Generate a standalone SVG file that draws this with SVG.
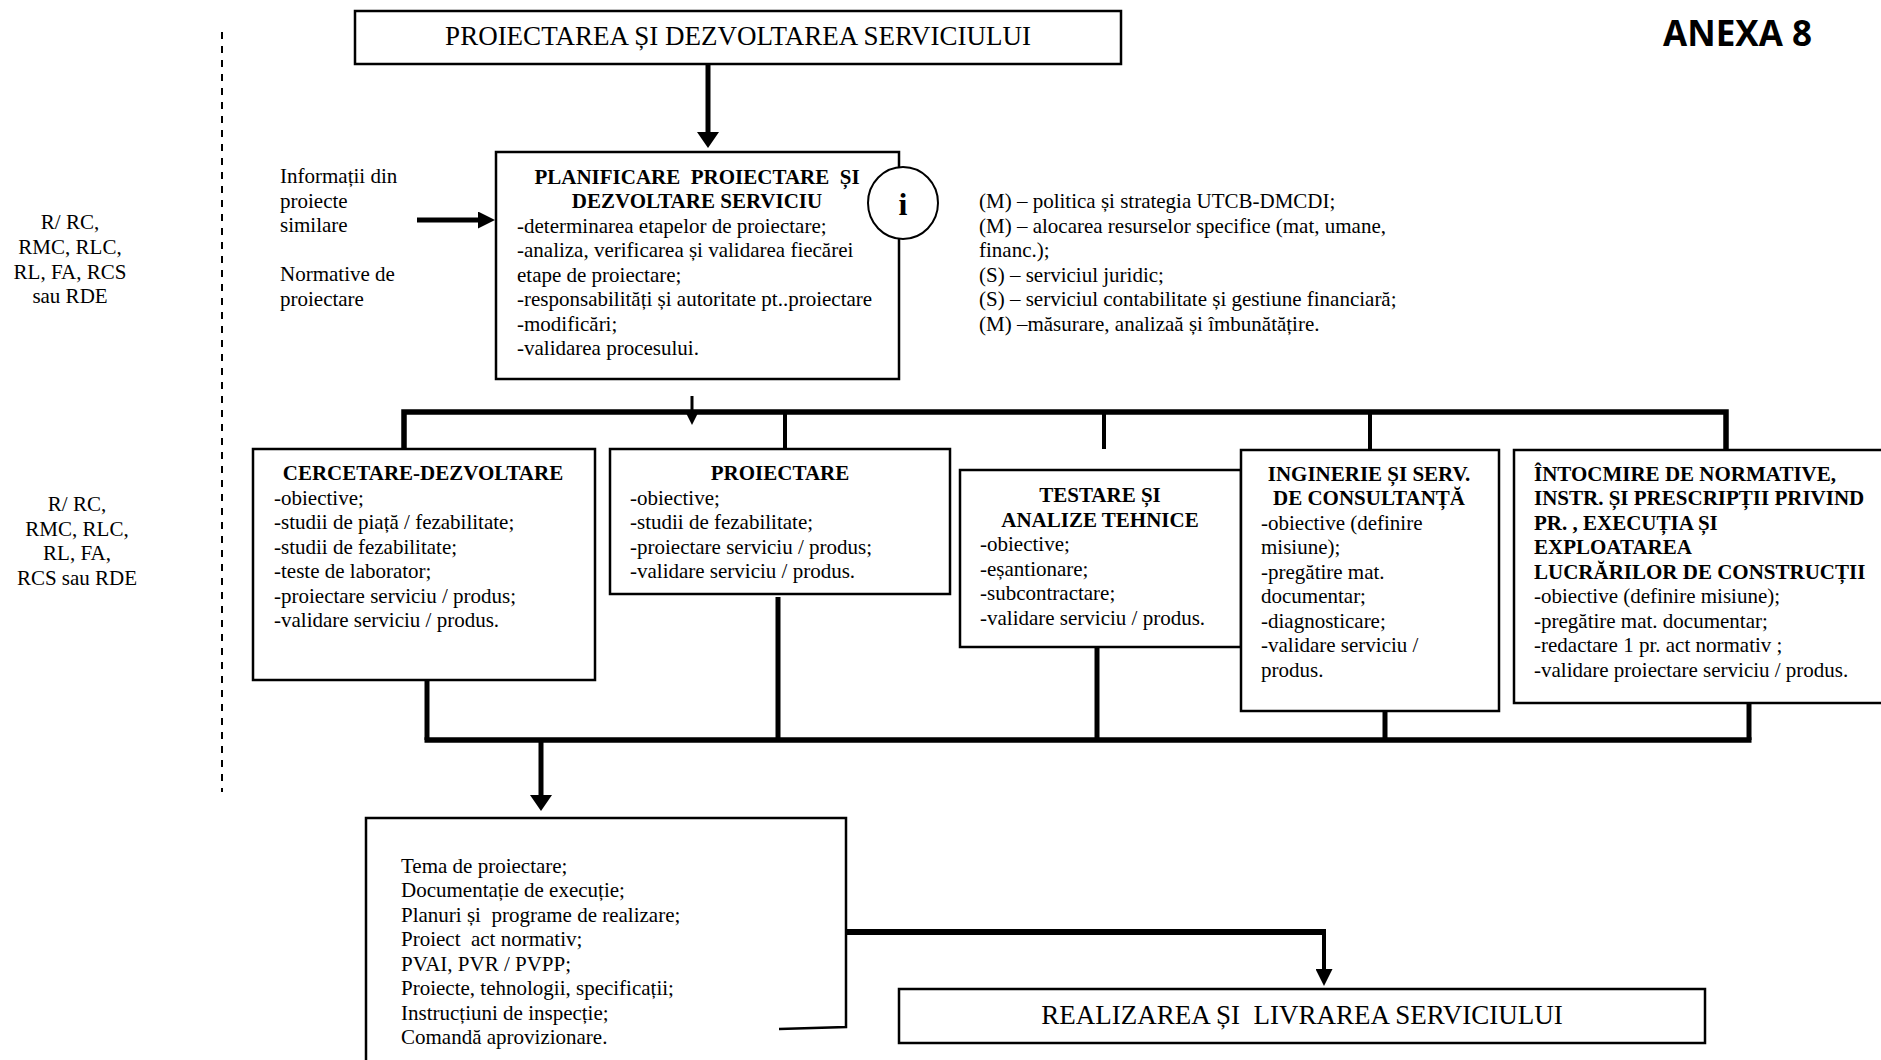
<svg xmlns="http://www.w3.org/2000/svg" width="1881" height="1060" viewBox="0 0 1881 1060">
<style>
.box{fill:#fff;stroke:#000;stroke-width:2.5}
.t{font-family:"Liberation Serif","Times New Roman",serif;font-size:21px;fill:#000;white-space:pre}
.b{font-weight:bold}
.c{text-anchor:middle}
.big{font-size:27px}
.ln{stroke:#000;fill:none}
</style>
<defs>
<marker id="ahL" markerUnits="userSpaceOnUse" viewBox="0 0 16 22" markerWidth="16" markerHeight="22" refX="0" refY="11" orient="auto"><path d="M0,0 L16,11 L0,22 z" fill="#000"/></marker>
<marker id="ahM" markerUnits="userSpaceOnUse" viewBox="0 0 17 17" markerWidth="17" markerHeight="17" refX="0" refY="8.5" orient="auto"><path d="M0,0 L17,8.5 L0,17 z" fill="#000"/></marker>
<marker id="ahS" markerUnits="userSpaceOnUse" viewBox="0 0 12 12" markerWidth="12" markerHeight="12" refX="0" refY="6" orient="auto"><path d="M0,0 L12,6 L0,12 z" fill="#000"/></marker>
</defs>
<rect width="1881" height="1060" fill="#fff"/>

<g id="anexa">
<text x="1663" y="46" font-family="'Open Sans','Liberation Sans',sans-serif" font-weight="bold" font-size="35" textLength="149" lengthAdjust="spacingAndGlyphs">ANEXA 8</text>
</g>

<g id="dashed-divider">
<line x1="222" y1="32" x2="222" y2="792" stroke="#000" stroke-width="2" stroke-dasharray="7 7"/>
</g>

<g id="roles-1">
<text class="t c" x="70" y="229">R/ RC,</text>
<text class="t c" x="70" y="254">RMC, RLC,</text>
<text class="t c" x="70" y="278.5">RL, FA, RCS</text>
<text class="t c" x="70" y="303">sau RDE</text>
</g>
<g id="roles-2">
<text class="t c" x="77" y="511">R/ RC,</text>
<text class="t c" x="77" y="535.5">RMC, RLC,</text>
<text class="t c" x="77" y="560">RL, FA,</text>
<text class="t c" x="77" y="584.5">RCS sau RDE</text>
</g>

<g id="inputs">
<text class="t" x="280" y="183">Informații din</text>
<text class="t" x="280" y="207.5">proiecte</text>
<text class="t" x="280" y="232">similare</text>
<text class="t" x="280" y="281">Normative de</text>
<text class="t" x="280" y="305.5">proiectare</text>
</g>

<g id="connectors">
<line class="ln" x1="708" y1="64" x2="708" y2="132" stroke-width="5" marker-end="url(#ahL)"/>
<line class="ln" x1="417" y1="220" x2="478" y2="220" stroke-width="5" marker-end="url(#ahM)"/>
<line class="ln" x1="692" y1="396" x2="692" y2="413" stroke-width="3" marker-end="url(#ahS)"/>
<path class="ln" d="M404,449 V412 H1726 V450" stroke-width="5.5"/>
<line class="ln" x1="785" y1="412" x2="785" y2="449" stroke-width="4"/>
<line class="ln" x1="1104" y1="412" x2="1104" y2="449" stroke-width="4"/>
<line class="ln" x1="1370" y1="412" x2="1370" y2="450" stroke-width="4"/>
<line class="ln" x1="427" y1="680" x2="427" y2="740" stroke-width="5"/>
<line class="ln" x1="778" y1="597" x2="778" y2="740" stroke-width="5"/>
<line class="ln" x1="1097" y1="635" x2="1097" y2="740" stroke-width="5"/>
<line class="ln" x1="1385" y1="711" x2="1385" y2="740" stroke-width="5"/>
<line class="ln" x1="1749" y1="703" x2="1749" y2="740" stroke-width="5"/>
<line class="ln" x1="424.5" y1="740" x2="1751.5" y2="740" stroke-width="5.5"/>
<line class="ln" x1="541" y1="740" x2="541" y2="795" stroke-width="5" marker-end="url(#ahL)"/>
<line class="ln" x1="846" y1="932" x2="1326" y2="932" stroke-width="6"/>
<line class="ln" x1="1324" y1="929" x2="1324" y2="969" stroke-width="4" marker-end="url(#ahM)"/>
</g>

<g id="node-top">
<rect class="box" x="355" y="11" width="766" height="53"/>
<text class="t big c" x="738" y="45">PROIECTAREA ȘI DEZVOLTAREA SERVICIULUI</text>
</g>

<g id="node-planificare">
<rect class="box" x="496" y="152" width="403" height="227"/>
<text class="t b c" x="697" y="184">PLANIFICARE  PROIECTARE  ȘI</text>
<text class="t b c" x="697" y="208">DEZVOLTARE SERVICIU</text>
<text class="t" x="517" y="232.5">-determinarea etapelor de proiectare;</text>
<text class="t" x="517" y="257">-analiza, verificarea și validarea fiecărei</text>
<text class="t" x="517" y="281.5">etape de proiectare;</text>
<text class="t" x="517" y="306">-responsabilități și autoritate pt..proiectare</text>
<text class="t" x="517" y="330.5">-modificări;</text>
<text class="t" x="517" y="355">-validarea procesului.</text>
</g>

<g id="node-info">
<ellipse cx="903" cy="203" rx="35" ry="36" fill="#fff" stroke="#000" stroke-width="2"/>
<text class="t b c" x="903" y="215" style="font-size:32px">i</text>
</g>

<g id="resources">
<text class="t" x="979" y="208">(M) – politica și strategia UTCB-DMCDI;</text>
<text class="t" x="979" y="232.5">(M) – alocarea resurselor specifice (mat, umane,</text>
<text class="t" x="979" y="257">financ.);</text>
<text class="t" x="979" y="281.5">(S) – serviciul juridic;</text>
<text class="t" x="979" y="306">(S) – serviciul contabilitate și gestiune financiară;</text>
<text class="t" x="979" y="330.5">(M) –măsurare, analizaă și îmbunătățire.</text>
</g>

<g id="node-cercetare">
<rect class="box" x="253" y="449" width="342" height="231"/>
<text class="t b c" x="423" y="480">CERCETARE-DEZVOLTARE</text>
<text class="t" x="274" y="504.5">-obiective;</text>
<text class="t" x="274" y="529">-studii de piață / fezabilitate;</text>
<text class="t" x="274" y="553.5">-studii de fezabilitate;</text>
<text class="t" x="274" y="578">-teste de laborator;</text>
<text class="t" x="274" y="602.5">-proiectare serviciu / produs;</text>
<text class="t" x="274" y="627">-validare serviciu / produs.</text>
</g>

<g id="node-proiectare">
<rect class="box" x="610" y="449" width="340" height="145"/>
<text class="t b c" x="780" y="480">PROIECTARE</text>
<text class="t" x="630" y="504.5">-obiective;</text>
<text class="t" x="630" y="529">-studii de fezabilitate;</text>
<text class="t" x="630" y="553.5">-proiectare serviciu / produs;</text>
<text class="t" x="630" y="578">-validare serviciu / produs.</text>
</g>

<g id="node-testare">
<rect class="box" x="960" y="470" width="281" height="177"/>
<text class="t b c" x="1100" y="502">TESTARE ȘI</text>
<text class="t b c" x="1100" y="526.5">ANALIZE TEHNICE</text>
<text class="t" x="980" y="551">-obiective;</text>
<text class="t" x="980" y="575.5">-eșantionare;</text>
<text class="t" x="980" y="600">-subcontractare;</text>
<text class="t" x="980" y="624.5">-validare serviciu / produs.</text>
</g>

<g id="node-inginerie">
<rect class="box" x="1241" y="450" width="258" height="261"/>
<text class="t b c" x="1369" y="480.5">INGINERIE ȘI SERV.</text>
<text class="t b c" x="1369" y="505">DE CONSULTANȚĂ</text>
<text class="t" x="1261" y="529.5">-obiective (definire</text>
<text class="t" x="1261" y="554">misiune);</text>
<text class="t" x="1261" y="578.5">-pregătire mat.</text>
<text class="t" x="1261" y="603">documentar;</text>
<text class="t" x="1261" y="627.5">-diagnosticare;</text>
<text class="t" x="1261" y="652">-validare serviciu /</text>
<text class="t" x="1261" y="676.5">produs.</text>
</g>

<g id="node-intocmire">
<rect class="box" x="1514" y="450" width="380" height="253"/>
<text class="t b" x="1534" y="480.5">ÎNTOCMIRE DE NORMATIVE,</text>
<text class="t b" x="1534" y="505">INSTR. ȘI PRESCRIPȚII PRIVIND</text>
<text class="t b" x="1534" y="529.5">PR. , EXECUȚIA ȘI</text>
<text class="t b" x="1534" y="554">EXPLOATAREA</text>
<text class="t b" x="1534" y="578.5">LUCRĂRILOR DE CONSTRUCȚII</text>
<text class="t" x="1534" y="603">-obiective (definire misiune);</text>
<text class="t" x="1534" y="627.5">-pregătire mat. documentar;</text>
<text class="t" x="1534" y="652">-redactare 1 pr. act normativ ;</text>
<text class="t" x="1534" y="676.5">-validare proiectare serviciu / produs.</text>
</g>

<g id="node-documente">
<path d="M366,1070 V818 H846 V1027 L779,1029" fill="#fff" stroke="#000" stroke-width="2.5"/>
<text class="t" x="401" y="872.5">Tema de proiectare;</text>
<text class="t" x="401" y="897">Documentație de execuție;</text>
<text class="t" x="401" y="921.5">Planuri și  programe de realizare;</text>
<text class="t" x="401" y="946">Proiect  act normativ;</text>
<text class="t" x="401" y="970.5">PVAI, PVR / PVPP;</text>
<text class="t" x="401" y="995">Proiecte, tehnologii, specificații;</text>
<text class="t" x="401" y="1019.5">Instrucțiuni de inspecție;</text>
<text class="t" x="401" y="1044">Comandă aprovizionare.</text>
</g>

<g id="node-realizare">
<rect class="box" x="899" y="989" width="806" height="54"/>
<text class="t big c" x="1302" y="1024">REALIZAREA ȘI  LIVRAREA SERVICIULUI</text>
</g>
</svg>
